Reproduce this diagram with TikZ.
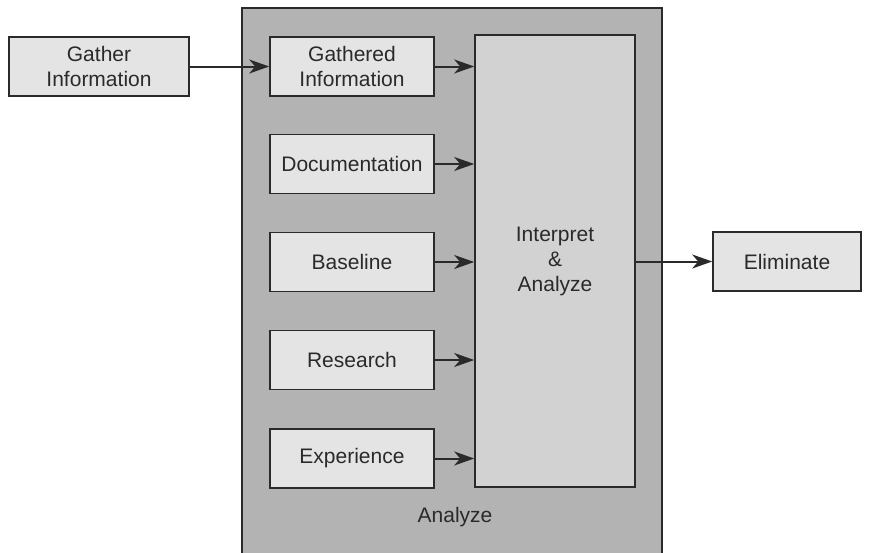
\documentclass[tikz,border=0pt]{standalone}
\usepackage{fontspec}
\setmainfont{Liberation Sans}
\usetikzlibrary{arrows.meta}
\definecolor{boxfill}{HTML}{E4E4E4}
\definecolor{outerfill}{HTML}{B3B3B3}
\definecolor{corefill}{HTML}{D2D2D2}
\definecolor{ink}{HTML}{2A2A2A}
\tikzset{
  x=1pt, y=-1pt,
  every node/.style={font=\fontsize{21}{25}\selectfont, text=ink},
  stepbox/.style={draw=ink, line width=1.6pt, fill=boxfill, inner sep=0pt,
    minimum width=164pt, minimum height=59pt, align=center},
  link/.style={draw=ink, line width=2pt,
    -{Stealth[length=20pt, width=14pt, inset=6pt]}},
}
\begin{document}
\begin{tikzpicture}
\useasboundingbox (0,0) rectangle (870,552);
\begin{scope}
\clip (0,0) rectangle (870,552);
% enclosing Analyze stage
\draw[ink, line width=1.6pt, fill=outerfill] (242,8) rectangle (662,570);
\end{scope}
\node (analyze) at (455,517) {Analyze};

% inputs
\node[stepbox, minimum width=180pt] (gather) at (99,66.5) {Gather\\Information};
\node[stepbox] (gathered) at (352,66.5) {Gathered\\Information};
\node[stepbox] (doc) at (352,164) {Documentation};
\node[stepbox] (base) at (352,262) {Baseline};
\node[stepbox] (res) at (352,360) {Research};
\node[stepbox] (exp) at (352,458.5) {Experience};

% central processing block
\node[draw=ink, line width=1.6pt, fill=corefill, minimum width=160pt,
  minimum height=452pt, inner sep=0pt, align=center] (core) at (555,261) {Interpret\\\&\\Analyze};

% output
\node[stepbox, minimum width=148pt] (elim) at (787,261.5) {Eliminate};

% connectors
\draw[link] (gather.east) -- (gathered.west);
\foreach \n in {gathered,doc,base,res,exp}
  \draw[link] (\n.east) -- (core.west |- \n.east);
\draw[link] (core.east |- elim.west) -- (elim.west);
\end{tikzpicture}
\end{document}
